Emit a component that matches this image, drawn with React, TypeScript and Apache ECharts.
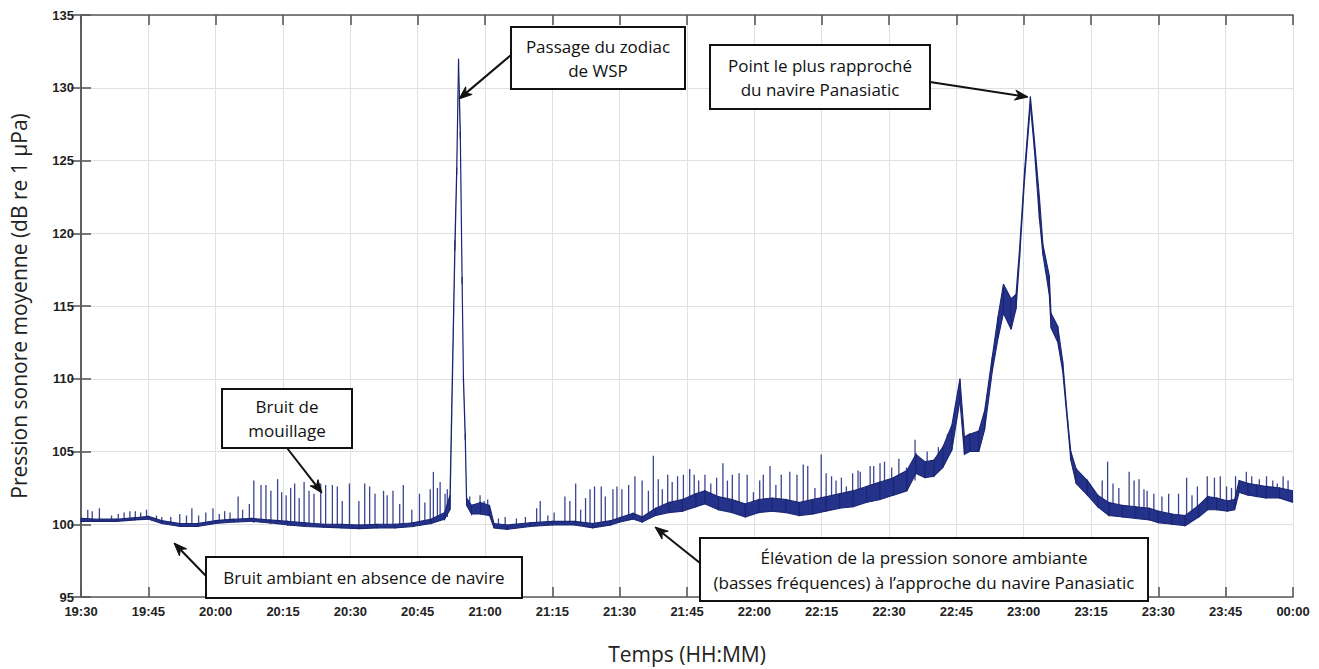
import React, { useEffect, useRef } from "react";
import * as echarts from "echarts";

// Minutes since 19:30 on the x axis
const timeLabels = [
  "19:30", "19:45", "20:00", "20:15", "20:30", "20:45", "21:00", "21:15", "21:30",
  "21:45", "22:00", "22:15", "22:30", "22:45", "23:00", "23:15", "23:30", "23:45", "00:00",
];

// Envelope of the noisy level (time in minutes, lower and upper values in dB)
const bandT = [
  0, 4, 8, 12, 15, 18, 22, 26, 30, 34, 38, 42, 46, 50, 54, 58, 62, 66, 70, 74, 78, 81,
  82.2, 83.3, 83.7, 84.1, 84.5, 84.9, 85.2, 85.6, 85.9, 87, 89, 91, 92, 95, 100, 105, 110,
  114, 118, 120, 123, 125, 128, 131, 134, 137, 139, 142, 145, 148, 151, 154, 157, 160, 163,
  166, 169, 172, 175, 178, 181, 184, 186, 188, 190, 192, 194, 195.8, 196.8, 198, 200, 201.3,
  203, 204.3, 205.5, 207.2, 208.3, 209.1, 210.2, 211.5, 212.4, 213.5, 214.3, 215.7, 216.1,
  217.6, 218.7, 219.8, 220.5, 221.7, 224.2, 226.5, 229, 232, 235, 238, 240, 243, 246, 249,
  251, 253, 255.4, 257, 258, 260, 262, 264, 267, 270,
];
const bandLo = [
  100.2, 100.2, 100.2, 100.3, 100.35, 100.05, 99.85, 99.85, 100.05, 100.15, 100.2, 100.1,
  99.95, 99.85, 99.8, 99.75, 99.7, 99.75, 99.75, 99.85, 100.05, 100.35,
  101.0, 118.8, 124.0, 131.5, 126.5, 116.5, 109.8, 105.8, 101.3, 100.7, 100.7, 100.6, 99.75,
  99.65, 99.85, 99.95, 99.95, 99.75, 99.95, 100.15, 100.35, 100.15, 100.6, 100.8, 100.9, 101.2,
  101.4, 101.0, 100.8, 100.5, 100.8, 100.9, 100.8, 100.6, 100.7, 100.9, 101.1, 101.2,
  101.5, 101.7, 102.0, 102.3, 103.5, 103.2, 103.3, 103.9, 105.1, 108.5, 104.8, 105.0,
  105.0, 106.5, 110.5, 112.8, 114.5, 113.4, 114.8, 118.3, 123.7, 128.8, 125.7, 121.0,
  118.5, 115.8, 113.5, 112.5, 110.5, 106.8, 104.4, 102.8, 102.0, 101.2, 100.6, 100.5,
  100.4, 100.3, 100.1, 100.0, 99.9, 100.5, 101.0, 101.0, 100.9, 101.0, 102.2, 102.0,
  101.9, 101.8, 101.8, 101.5,
];
const bandHi = [
  100.4, 100.35, 100.35, 100.45, 100.55, 100.25, 100.05, 100.05, 100.25, 100.35, 100.4, 100.3,
  100.2, 100.1, 100.0, 100.0, 99.95, 100.0, 100.0, 100.1, 100.35, 100.8,
  102.0, 119.5, 124.5, 132.0, 127.0, 117.0, 110.2, 106.2, 101.8, 101.3, 101.5, 101.3,
  100.05, 99.95, 100.1, 100.2, 100.2, 100.05, 100.25, 100.45, 100.75, 100.5, 101.1, 101.5,
  101.7, 102.1, 102.3, 101.9, 101.7, 101.4, 101.7, 101.8, 101.7, 101.5, 101.7, 101.9,
  102.1, 102.3, 102.6, 102.9, 103.2, 103.7, 104.8, 104.3, 104.4, 105.3, 106.8, 110.0,
  106.0, 106.2, 106.4, 107.8, 111.5, 114.3, 116.5, 115.5, 115.8, 119.0, 124.3, 129.4,
  126.4, 122.5, 119.2, 117.1, 114.5, 113.6, 111.2, 107.2, 105.0, 103.8, 103.0, 102.0,
  101.5, 101.3, 101.2, 101.1, 100.9, 100.7, 100.6, 101.3, 101.9, 101.8, 101.6, 101.7,
  103.0, 102.8, 102.7, 102.6, 102.5, 102.3,
];

// Short transient peaks: [time (min), level at base, peak level]
const spikes = [
  [1.5, 100.3, 101.0], [2.5, 100.3, 100.9], [4.1, 100.3, 101.1], [6.8, 100.3, 100.6],
  [8.3, 100.3, 100.7], [9.6, 100.3, 100.8], [10.9, 100.3, 100.9], [12.1, 100.3, 100.9],
  [13.3, 100.4, 100.8], [14.6, 100.4, 101.0], [16.8, 100.2, 100.6], [18.0, 100.1, 100.5],
  [20.0, 100.0, 100.5], [22.0, 99.9, 100.7], [23.5, 99.9, 100.6], [24.7, 99.9, 101.1],
  [26.2, 99.9, 100.6], [27.8, 100.0, 100.8], [29.4, 100.1, 101.1], [30.8, 100.1, 100.7],
  [32.0, 100.2, 100.9], [33.2, 100.2, 100.8], [35.0, 100.2, 101.9], [36.0, 100.2, 101.0],
  [37.5, 100.2, 101.4], [38.5, 100.1, 103.0], [40.1, 100.1, 102.7], [41.2, 100.1, 102.7],
  [42.3, 100.0, 102.3], [43.8, 100.0, 103.1], [44.7, 100.0, 102.2], [45.7, 100.0, 102.0],
  [46.7, 99.9, 102.5], [47.6, 99.9, 102.8], [48.6, 99.9, 101.8], [49.7, 99.9, 102.9],
  [50.8, 99.9, 102.3], [51.9, 99.9, 102.1], [53.4, 99.9, 102.8], [54.5, 99.9, 102.7],
  [56.0, 99.9, 102.7], [57.1, 99.8, 102.6], [58.2, 99.8, 101.6], [59.8, 99.8, 102.8],
  [61.9, 99.8, 101.6], [63.2, 99.8, 102.8], [64.3, 99.8, 102.6], [65.5, 99.8, 102.1],
  [67.4, 99.8, 102.3], [68.2, 99.8, 102.0], [69.5, 99.8, 102.3], [71.0, 99.8, 101.4],
  [71.8, 99.8, 102.7], [73.7, 99.9, 101.0], [75.4, 99.9, 102.1], [76.6, 100.0, 101.5],
  [77.8, 100.1, 102.4], [78.5, 100.1, 103.6], [79.4, 100.2, 102.5], [80.0, 100.3, 102.9],
  [81.1, 100.4, 102.1], [81.6, 100.5, 102.4],
  [86.6, 101.0, 101.9], [87.4, 101.0, 101.4], [88.9, 101.0, 102.0], [89.8, 100.9, 101.6],
  [90.6, 100.8, 101.7], [93.0, 99.8, 100.4], [94.5, 99.8, 100.5], [97.0, 99.9, 100.4],
  [99.0, 99.9, 100.5], [101.5, 99.9, 101.1], [102.3, 99.9, 101.6], [104.0, 100.0, 100.6],
  [105.4, 100.0, 100.8], [107.8, 100.0, 101.9], [108.9, 100.0, 101.6], [110.2, 100.0, 102.8],
  [111.3, 100.0, 101.0], [112.4, 99.9, 101.8], [113.4, 99.9, 102.4], [114.4, 99.9, 102.6],
  [115.9, 99.9, 102.6], [116.8, 99.9, 101.9], [118.5, 100.1, 102.4], [119.4, 100.2, 102.6],
  [120.5, 100.3, 102.4], [122.0, 100.4, 102.7], [123.4, 100.5, 103.3], [125.0, 100.3, 103.0],
  [126.4, 100.5, 102.3], [127.5, 100.8, 104.7], [128.6, 100.9, 103.1], [129.5, 101.0, 102.4],
  [130.7, 101.0, 103.4], [131.7, 101.1, 102.9], [132.9, 101.2, 103.3], [134.2, 101.2, 103.4],
  [135.6, 101.4, 103.8], [136.6, 101.6, 103.4], [137.6, 101.7, 103.0], [139.0, 101.8, 103.4],
  [140.3, 101.6, 102.8], [141.6, 101.4, 103.2], [143.0, 101.3, 104.2], [144.0, 101.2, 103.0],
  [145.1, 101.1, 103.4], [146.6, 101.0, 103.5], [148.4, 100.9, 103.4], [149.8, 100.9, 102.2],
  [151.2, 101.0, 103.0], [152.0, 101.1, 103.4], [153.5, 101.2, 104.0], [154.8, 101.2, 102.7],
  [156.0, 101.2, 103.4], [157.9, 101.2, 103.6], [159.5, 101.1, 103.4], [160.9, 101.0, 104.1],
  [161.9, 101.0, 104.0], [163.5, 101.1, 102.5], [164.9, 101.2, 104.8], [166.0, 101.3, 103.5],
  [167.2, 101.4, 103.3], [168.2, 101.4, 103.0], [169.4, 101.5, 103.2], [170.5, 101.6, 102.6],
  [171.9, 101.7, 103.5], [173.1, 101.7, 103.7], [173.6, 101.8, 103.6], [175.8, 102.0, 104.0],
  [176.6, 102.0, 104.0], [178.0, 102.2, 104.2], [179.0, 102.3, 104.3], [180.6, 102.5, 103.9],
  [182.2, 102.6, 104.5], [183.9, 102.8, 103.9], [185.8, 103.0, 105.8], [188.5, 103.7, 105.0],
  [191.0, 103.8, 105.3], [193.0, 104.5, 106.2],
  [227.5, 101.5, 103.0], [228.7, 101.2, 104.3], [229.9, 101.0, 102.8], [231.2, 100.9, 102.5],
  [233.5, 100.8, 103.6], [234.6, 100.8, 103.0], [235.7, 100.7, 103.1], [236.8, 100.7, 102.4],
  [237.5, 100.7, 102.3], [239.0, 100.6, 102.1], [240.8, 100.5, 101.9], [242.3, 100.4, 102.1],
  [244.5, 100.3, 102.1], [246.3, 100.3, 103.2], [247.5, 100.6, 102.0], [248.7, 100.8, 102.6],
  [250.9, 101.4, 103.3], [252.5, 101.4, 103.2], [253.8, 101.3, 103.3], [255.2, 101.2, 102.6],
  [256.3, 101.3, 102.5], [257.2, 101.3, 103.3], [259.6, 102.5, 103.6], [260.8, 102.4, 103.3],
  [262.5, 102.2, 103.1], [264.1, 102.1, 103.3], [265.5, 102.1, 103.0], [266.5, 102.0, 102.8],
  [267.8, 102.0, 103.3], [268.9, 101.9, 103.0],
];

const yTitle = "Pression sonore moyenne (dB re 1 μPa)";
const xTitle = "Temps (HH:MM)";

type Note = {
  box: [number, number, number, number];
  lines: string[];
  lineY: number[];
  from: [number, number];
  to: [number, number];
};

const notes: Note[] = [
  { box: [511, 27, 174, 62], lines: ["Passage du zodiac", "de WSP"], lineY: [46, 70], from: [511, 55], to: [459, 99] },
  { box: [710, 45, 220, 64], lines: ["Point le plus rapproché", "du navire Panasiatic"], lineY: [65, 89], from: [930, 82], to: [1028, 97] },
  { box: [222, 389, 130, 59], lines: ["Bruit de", "mouillage"], lineY: [406, 430], from: [287, 448], to: [322, 493] },
  { box: [206, 557, 316, 41], lines: ["Bruit ambiant en absence de navire"], lineY: [577], from: [206, 576], to: [174, 543] },
  { box: [700, 538, 448, 63], lines: ["Élévation de la pression sonore ambiante", "(basses fréquences) à l’approche du navire Panasiatic"], lineY: [557, 582], from: [700, 563], to: [655, 527] },
];

function arrowHead(from: [number, number], to: [number, number]) {
  const dx = to[0] - from[0];
  const dy = to[1] - from[1];
  const len = Math.sqrt(dx * dx + dy * dy);
  const ux = dx / len, uy = dy / len;
  const L = 13, W = 5;
  const bx = to[0] - ux * L, by = to[1] - uy * L;
  return [
    [to[0], to[1]],
    [bx - uy * W, by + ux * W],
    [to[0] - ux * L * 0.7, to[1] - uy * L * 0.7],
    [bx + uy * W, by - ux * W],
  ];
}

export default function App() {
  const ref = useRef<HTMLDivElement>(null);

  useEffect(() => {
    const chart = echarts.init(ref.current!, null, { renderer: "svg" });

    const bandData: number[][] = [];
    for (let i = 0; i < bandT.length - 1; i++) {
      bandData.push([bandT[i], bandLo[i], bandHi[i], bandT[i + 1], bandLo[i + 1], bandHi[i + 1]]);
    }

    const graphics: any[] = [];
    notes.forEach((n) => {
      const head = arrowHead(n.from, n.to);
      const shaftEnd = head[2];
      graphics.push({
        type: "line",
        z: 100,
        shape: { x1: n.from[0], y1: n.from[1], x2: shaftEnd[0], y2: shaftEnd[1] },
        style: { stroke: "#111", lineWidth: 2 },
      });
      graphics.push({
        type: "polygon",
        z: 100,
        shape: { points: head },
        style: { fill: "#111", stroke: "#111", lineWidth: 1 },
      });
      graphics.push({
        type: "rect",
        z: 101,
        shape: { x: n.box[0], y: n.box[1], width: n.box[2], height: n.box[3] },
        style: { fill: "#fff", stroke: "#111", lineWidth: 2 },
      });
      n.lines.forEach((t, k) => {
        graphics.push({
          type: "text",
          z: 102,
          style: {
            text: t,
            x: n.box[0] + n.box[2] / 2,
            y: n.lineY[k],
            textAlign: "center",
            textVerticalAlign: "middle",
            fontSize: 17,
            fontFamily: "Open Sans",
            fill: "#111",
          },
        });
      });
    });

    const axisLine = { show: true, lineStyle: { color: "#5a5a5a", width: 1.6 } };
    const axisTick = { show: true, inside: true, length: 10, lineStyle: { color: "#5a5a5a", width: 1.6 } };
    const labelStyle = { color: "#222", fontSize: 13, fontWeight: "bold" as const, fontFamily: "Liberation Sans" };

    chart.setOption({
      animation: false,
      backgroundColor: "#ffffff",
      grid: { left: 76, right: 26, top: 15, bottom: 62, containLabel: false },
      xAxis: [
        {
          type: "value",
          min: 0,
          max: 270,
          interval: 15,
          position: "bottom",
          axisLine,
          axisTick,
          axisLabel: { ...labelStyle, margin: 8, formatter: (v: number) => timeLabels[Math.round(v / 15)] },
          splitLine: { show: true, lineStyle: { color: "#e0e0e0", width: 1 } },
          name: xTitle,
          nameLocation: "middle",
          nameGap: 46,
          nameTextStyle: { fontSize: 21, fontFamily: "Open Sans", color: "#222" },
        },
        {
          type: "value",
          min: 0,
          max: 270,
          interval: 15,
          position: "top",
          axisLine,
          axisTick,
          axisLabel: { show: false },
          splitLine: { show: false },
        },
      ],
      yAxis: [
        {
          type: "value",
          min: 95,
          max: 135,
          interval: 5,
          position: "left",
          axisLine,
          axisTick,
          axisLabel: { ...labelStyle, margin: 7 },
          splitLine: { show: true, lineStyle: { color: "#e0e0e0", width: 1 } },
          name: yTitle,
          nameLocation: "middle",
          nameGap: 52,
          nameTextStyle: { fontSize: 21, fontFamily: "Open Sans", color: "#222" },
        },
        {
          type: "value",
          min: 95,
          max: 135,
          interval: 5,
          position: "right",
          axisLine,
          axisTick,
          axisLabel: { show: false },
          splitLine: { show: false },
        },
      ],
      series: [
        {
          type: "custom",
          name: "spikes",
          xAxisIndex: 0,
          yAxisIndex: 0,
          clip: true,
          data: spikes,
          encode: { x: 0, y: [1, 2] },
          renderItem: (params: any, api: any) => {
            const a = api.coord([api.value(0), api.value(1)]);
            const b = api.coord([api.value(0), api.value(2)]);
            return {
              type: "line",
              shape: { x1: a[0], y1: a[1], x2: b[0], y2: b[1] },
              style: { stroke: "#3c4590", lineWidth: 1.3 },
            };
          },
        },
        {
          type: "custom",
          name: "level",
          xAxisIndex: 0,
          yAxisIndex: 0,
          clip: true,
          data: bandData,
          encode: { x: [0, 3], y: [1, 2, 4, 5] },
          renderItem: (params: any, api: any) => {
            const p0 = api.coord([api.value(0), api.value(1)]);
            const p1 = api.coord([api.value(0), api.value(2)]);
            const p2 = api.coord([api.value(3), api.value(5)]);
            const p3 = api.coord([api.value(3), api.value(4)]);
            return {
              type: "polygon",
              shape: { points: [p0, p1, p2, p3] },
              style: { fill: "#24328a", stroke: "#1b2672", lineWidth: 1.1 },
            };
          },
        },
      ],
      graphic: graphics,
    });

    return () => chart.dispose();
  }, []);

  return (
    <div
      ref={ref}
      style={{ position: "fixed", left: 0, top: 0, width: 1319, height: 669, background: "#fff" }}
    />
  );
}
